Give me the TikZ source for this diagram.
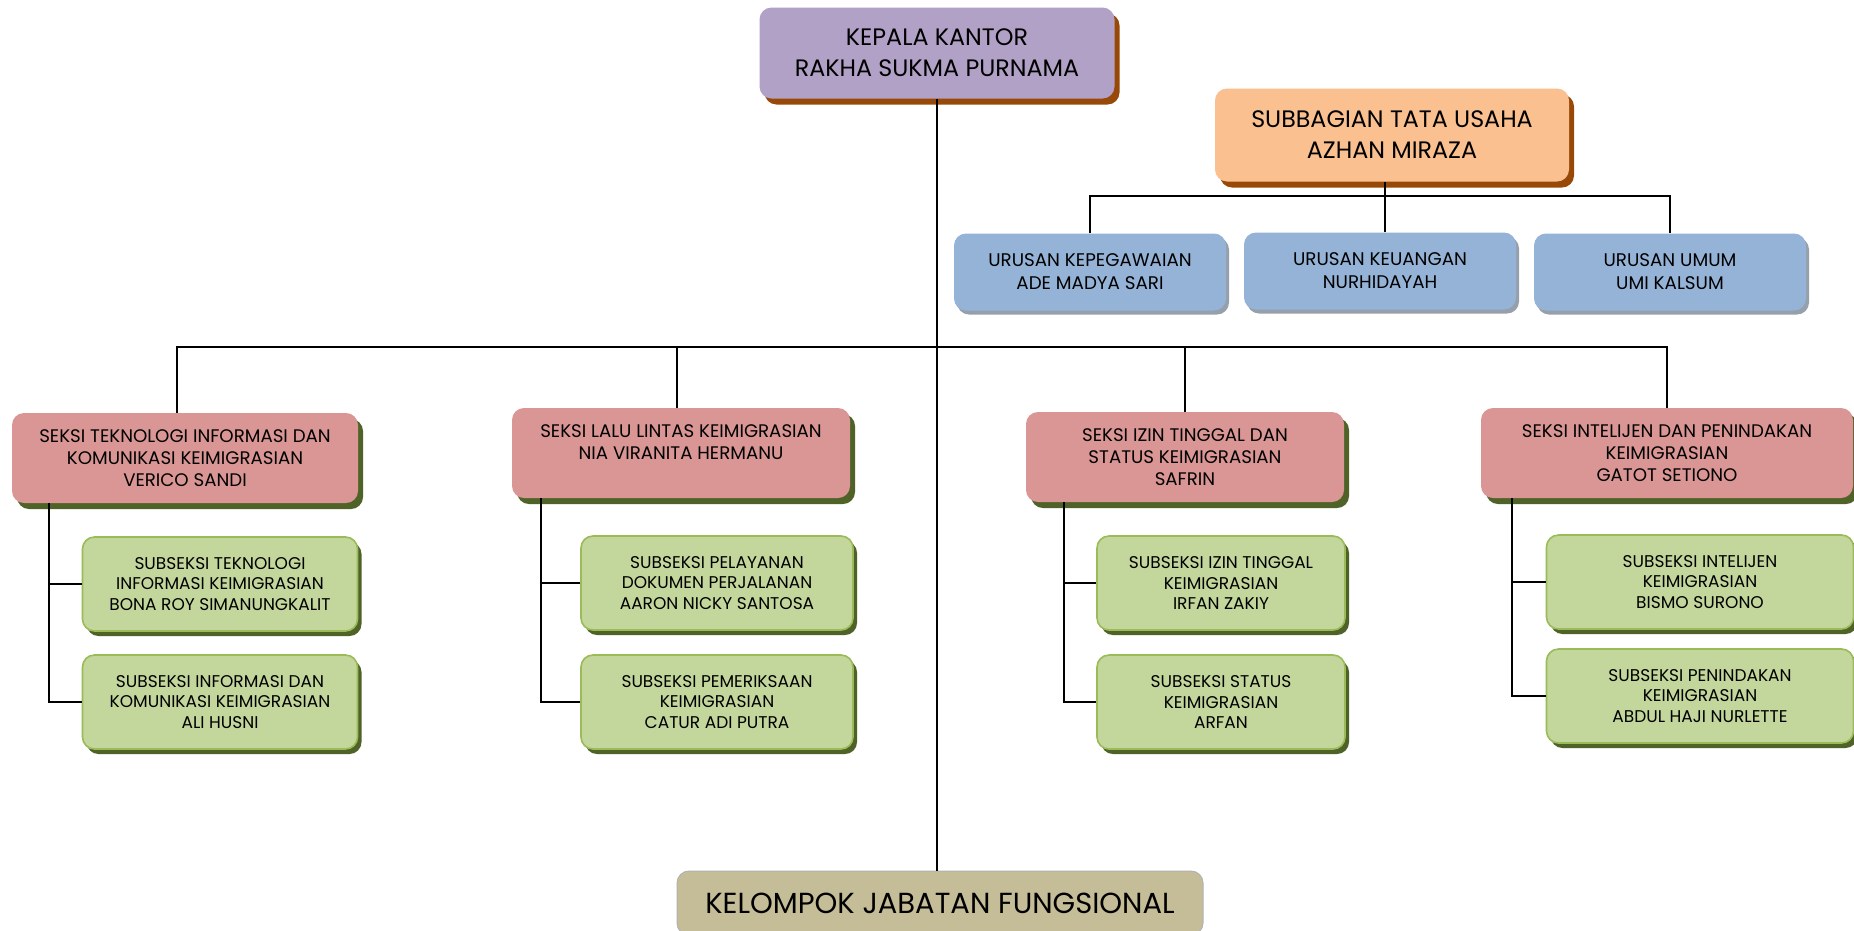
\documentclass[tikz,border=0pt]{standalone}
\usepackage{fontspec}
\setmainfont{Poppins}
\definecolor{headpurple}{RGB}{178, 161, 199}
\definecolor{headbrown}{RGB}{152, 72, 7}
\definecolor{tuorange}{RGB}{250, 192, 144}
\definecolor{urblue}{RGB}{149, 179, 215}
\definecolor{urshadow}{RGB}{150, 160, 172}
\definecolor{seksired}{RGB}{217, 150, 148}
\definecolor{subgreen}{RGB}{195, 214, 155}
\definecolor{subline}{RGB}{155, 187, 89}
\definecolor{olive1}{RGB}{79, 98, 40}
\definecolor{jabkhaki}{RGB}{196, 189, 151}
\usetikzlibrary{positioning, shadows}

\begin{document}
\begin{tikzpicture}[x=1pt, y=-1pt,
  box/.style={rounded corners=12pt, align=center, inner sep=0pt},
  headbox/.style={box, fill=headpurple, minimum width=355pt, minimum height=91pt,
    font=\fontsize{23.8}{31}\selectfont,
    drop shadow={shadow xshift=5pt, shadow yshift=-6pt, fill=headbrown, opacity=1}},
  tubox/.style={headbox, fill=tuorange, minimum width=354pt, minimum height=93pt},
  urbox/.style={box, fill=urblue, minimum width=272pt, minimum height=77pt,
    font=\fontsize{18.3}{23}\selectfont,
    drop shadow={shadow xshift=3pt, shadow yshift=-4pt, fill=urshadow, opacity=1}},
  seksibox/.style={box, fill=seksired, minimum height=90pt,
    font=\fontsize{18.2}{22}\selectfont,
    drop shadow={shadow xshift=5pt, shadow yshift=-6pt, fill=olive1, opacity=1}},
  subbox/.style={box, fill=subgreen, draw=subline, line width=1.6pt, minimum height=94pt,
    font=\fontsize{17}{20.5}\selectfont,
    drop shadow={shadow xshift=4pt, shadow yshift=-5pt, fill=olive1, opacity=1}},
  jabbox/.style={box, fill=jabkhaki, draw=gray!60, line width=1pt, minimum width=526pt,
    minimum height=64pt, font=\fontsize{29}{36}\selectfont},
  conn/.style={line width=1.9pt}
]
  \clip (0,0) rectangle (1854,930);
  \fill[white] (0,0) rectangle (1854,930);

  \node[headbox] (kepala) at (937, 53) {KEPALA KANTOR\\RAKHA SUKMA PURNAMA};
  \node[tubox] (tu) at (1392, 135) {SUBBAGIAN TATA USAHA\\AZHAN MIRAZA};

  \node[urbox] (u1) at (1090, 272) {URUSAN KEPEGAWAIAN\\ADE MADYA SARI};
  \node[urbox] (u2) at (1380, 271) {URUSAN KEUANGAN\\NURHIDAYAH};
  \node[urbox] (u3) at (1670, 272) {URUSAN UMUM\\UMI KALSUM};

  \node[seksibox, minimum width=346pt] (s1) at (185, 458)
    {SEKSI TEKNOLOGI INFORMASI DAN\\KOMUNIKASI KEIMIGRASIAN\\VERICO SANDI};
  \node[seksibox, minimum width=338pt] (s2) at (681, 453)
    {SEKSI LALU LINTAS KEIMIGRASIAN\\NIA VIRANITA HERMANU\\\mbox{}};
  \node[seksibox, minimum width=318pt] (s3) at (1185, 457)
    {SEKSI IZIN TINGGAL DAN\\STATUS KEIMIGRASIAN\\SAFRIN};
  \node[seksibox, minimum width=372pt] (s4) at (1667, 453)
    {SEKSI INTELIJEN DAN PENINDAKAN\\KEIMIGRASIAN\\GATOT SETIONO};

  \node[subbox, minimum width=275pt] (t1a) at (220, 584)
    {SUBSEKSI TEKNOLOGI\\INFORMASI KEIMIGRASIAN\\BONA ROY SIMANUNGKALIT};
  \node[subbox, minimum width=275pt] (t1b) at (220, 702)
    {SUBSEKSI INFORMASI DAN\\KOMUNIKASI KEIMIGRASIAN\\ALI HUSNI};
  \node[subbox, minimum width=272pt] (t2a) at (717, 583)
    {SUBSEKSI PELAYANAN\\DOKUMEN PERJALANAN\\AARON NICKY SANTOSA};
  \node[subbox, minimum width=272pt] (t2b) at (717, 702)
    {SUBSEKSI PEMERIKSAAN\\KEIMIGRASIAN\\CATUR ADI PUTRA};
  \node[subbox, minimum width=248pt] (t3a) at (1221, 583)
    {SUBSEKSI IZIN TINGGAL\\KEIMIGRASIAN\\IRFAN ZAKIY};
  \node[subbox, minimum width=248pt] (t3b) at (1221, 702)
    {SUBSEKSI STATUS\\KEIMIGRASIAN\\ARFAN};
  \node[subbox, minimum width=307pt] (t4a) at (1700, 582)
    {SUBSEKSI INTELIJEN\\KEIMIGRASIAN\\BISMO SURONO};
  \node[subbox, minimum width=307pt] (t4b) at (1700, 696)
    {SUBSEKSI PENINDAKAN\\KEIMIGRASIAN\\ABDUL HAJI NURLETTE};

  \node[jabbox] (jab) at (940, 903) {KELOMPOK JABATAN FUNGSIONAL};

  \coordinate (ubus) at (0, 196);
  \coordinate (mbus) at (0, 347);

  \draw[conn] (kepala.south) -- (kepala.south |- jab.north);
  \draw[conn] ([xshift=5pt]u2.north) -- ([xshift=5pt]u2.north |- tu.south);
  \draw[conn] (u1.north) |- (ubus -| u3.north) -- (u3.north);
  \draw[conn] ([xshift=-8pt]s1.north) |- (mbus -| s4.north) -- (s4.north);
  \draw[conn] ([xshift=-4pt]s2.north) -- ([xshift=-4pt]s2.north |- mbus);
  \draw[conn] (s3.north) -- (s3.north |- mbus);

  \draw[conn] ([xshift=37pt]s1.south west) |- (t1a.west);
  \draw[conn] ([xshift=37pt]s1.south west) |- (t1b.west);
  \draw[conn] ([xshift=29pt]s2.south west) |- (t2a.west);
  \draw[conn] ([xshift=29pt]s2.south west) |- (t2b.west);
  \draw[conn] ([xshift=38pt]s3.south west) |- (t3a.west);
  \draw[conn] ([xshift=38pt]s3.south west) |- (t3b.west);
  \draw[conn] ([xshift=31pt]s4.south west) |- (t4a.west);
  \draw[conn] ([xshift=31pt]s4.south west) |- (t4b.west);
\end{tikzpicture}
\end{document}
